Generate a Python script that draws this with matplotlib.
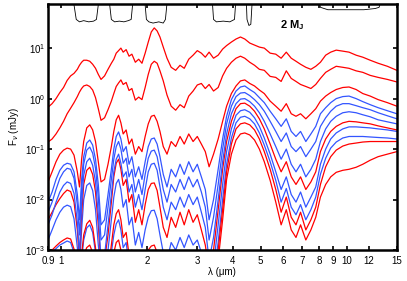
import numpy as np
import matplotlib
matplotlib.use("Agg")
import matplotlib.pyplot as plt
from matplotlib.ticker import FixedLocator, FixedFormatter, NullLocator, LogLocator

plt.rcParams["font.family"] = ["Liberation Sans", "DejaVu Sans"]
plt.rcParams["mathtext.fontset"] = "custom"
plt.rcParams["mathtext.rm"] = "Liberation Sans"
plt.rcParams["mathtext.bf"] = "Liberation Sans:bold"

# wavelength grid (micron)
wl = [0.90, 0.93, 0.96, 0.99, 1.02, 1.05, 1.08, 1.11, 1.14, 1.16, 1.18, 1.20,
      1.23, 1.26, 1.29, 1.32, 1.35, 1.38, 1.42, 1.46, 1.50, 1.53, 1.56, 1.59,
      1.62, 1.65, 1.69, 1.73, 1.77, 1.82, 1.87, 1.92, 1.97, 2.02, 2.07, 2.12,
      2.17, 2.22, 2.28, 2.35, 2.43, 2.52, 2.61, 2.70, 2.80, 2.90, 3.00, 3.10,
      3.20, 3.30, 3.42, 3.55, 3.68, 3.80, 3.95, 4.10, 4.25, 4.40, 4.58, 4.76,
      4.95, 5.15, 5.40, 5.65, 5.90, 6.15, 6.40, 6.65, 6.90, 7.20, 7.50, 7.80,
      8.10, 8.45, 8.80, 9.20, 9.70, 10.2, 10.8, 11.4, 12.1, 12.9, 13.9, 15.0]

# log10 flux (mJy)
red1 = [-0.17, -0.10, 0.00, 0.12, 0.22, 0.36, 0.45, 0.50, 0.58, 0.66, 0.72, 0.76,
        0.76, 0.74, 0.68, 0.60, 0.48, 0.38, 0.45, 0.58, 0.70, 0.78, 0.90, 0.95,
        1.00, 0.92, 0.97, 0.84, 0.88, 0.72, 0.78, 0.70, 0.90, 1.12, 1.32, 1.40,
        1.34, 1.22, 1.02, 0.80, 0.62, 0.56, 0.66, 0.60, 0.78, 0.86, 0.95, 0.90,
        0.82, 0.92, 0.80, 0.86, 0.98, 1.05, 1.12, 1.18, 1.22, 1.18, 1.10, 1.06,
        1.02, 1.00, 0.90, 0.88, 0.80, 0.92, 0.80, 0.74, 0.68, 0.62, 0.58, 0.64,
        0.72, 0.86, 0.92, 0.96, 0.94, 0.92, 0.86, 0.82, 0.76, 0.70, 0.64, 0.56]
red2 = [-0.86, -0.80, -0.70, -0.58, -0.45, -0.30, -0.19, -0.08, 0.04, 0.13, 0.20, 0.25,
        0.27, 0.24, 0.17, 0.02, -0.20, -0.43, -0.38, -0.22, -0.05, 0.10, 0.24, 0.31,
        0.37, 0.28, 0.32, 0.16, 0.20, -0.03, 0.03, -0.02, 0.22, 0.48, 0.68, 0.74,
        0.70, 0.55, 0.35, 0.07, -0.15, -0.23, -0.12, -0.18, 0.05, 0.15, 0.27, 0.30,
        0.20, 0.28, 0.15, 0.22, 0.45, 0.60, 0.72, 0.80, 0.84, 0.80, 0.72, 0.66,
        0.58, 0.56, 0.44, 0.42, 0.34, 0.55, 0.40, 0.34, 0.28, 0.24, 0.20, 0.28,
        0.40, 0.52, 0.58, 0.64, 0.62, 0.60, 0.55, 0.52, 0.46, 0.42, 0.38, 0.33]
red3 = [-1.65, -1.45, -1.25, -1.10, -1.02, -0.98, -1.00, -1.12, -1.45, -1.75, -1.20, -0.85,
        -0.58, -0.52, -0.62, -0.85, -1.25, -1.65, -1.60, -1.30, -0.95, -0.65, -0.42, -0.33,
        -0.48, -0.70, -0.62, -0.90, -0.80, -1.10, -0.95, -1.05, -0.75, -0.50, -0.35, -0.33,
        -0.45, -0.65, -0.95, -1.10, -0.85, -0.95, -0.75, -0.90, -0.70, -0.85, -0.75, -0.90,
        -1.05, -1.35, -1.10, -0.80, -0.45, -0.15, 0.10, 0.25, 0.35, 0.37, 0.30, 0.25,
        0.17, 0.10, -0.05, -0.15, -0.25, -0.10, -0.30, -0.35, -0.30, -0.40, -0.30, -0.20,
        -0.05, 0.05, 0.12, 0.18, 0.22, 0.23, 0.18, 0.10, 0.05, -0.02, -0.08, -0.15]
blue1 = [-2.05, -1.85, -1.60, -1.42, -1.32, -1.28, -1.30, -1.45, -1.90, -2.40, -1.60, -1.15,
         -0.88, -0.82, -0.92, -1.20, -1.70, -2.50, -2.40, -1.90, -1.40, -1.00, -0.75, -0.66,
         -0.80, -1.05, -0.95, -1.30, -1.15, -1.55, -1.35, -1.60, -1.25, -0.95, -0.80, -0.78,
         -0.90, -1.15, -1.50, -1.75, -1.40, -1.55, -1.30, -1.50, -1.25, -1.45, -1.30, -1.55,
         -1.80, -2.40, -2.00, -1.40, -0.80, -0.35, -0.02, 0.15, 0.23, 0.25, 0.18, 0.12,
         0.02, -0.08, -0.25, -0.40, -0.55, -0.40, -0.65, -0.75, -0.65, -0.85, -0.70, -0.55,
         -0.30, -0.18, -0.08, 0.00, 0.04, 0.05, 0.00, -0.06, -0.12, -0.18, -0.24, -0.30]
blue2 = [-2.25, -2.05, -1.80, -1.58, -1.45, -1.38, -1.40, -1.58, -2.10, -2.70, -1.80, -1.30,
         -1.02, -0.96, -1.08, -1.38, -1.95, -2.80, -2.70, -2.15, -1.60, -1.20, -0.95, -0.85,
         -1.00, -1.28, -1.18, -1.55, -1.40, -1.85, -1.60, -1.90, -1.50, -1.18, -1.04, -1.02,
         -1.15, -1.45, -1.80, -2.05, -1.70, -1.85, -1.60, -1.80, -1.55, -1.75, -1.60, -1.85,
         -2.15, -2.80, -2.35, -1.70, -1.00, -0.50, -0.15, 0.04, 0.11, 0.12, 0.06, -0.02,
         -0.12, -0.25, -0.45, -0.65, -0.85, -0.68, -0.95, -1.05, -0.95, -1.15, -1.00, -0.85,
         -0.55, -0.38, -0.25, -0.15, -0.10, -0.10, -0.14, -0.18, -0.22, -0.28, -0.34, -0.40]
blue3 = [-2.50, -2.30, -2.05, -1.85, -1.72, -1.65, -1.68, -1.88, -2.45, -3.10, -2.10, -1.52,
         -1.25, -1.18, -1.32, -1.65, -2.30, -3.20, -3.10, -2.50, -1.90, -1.45, -1.20, -1.10,
         -1.28, -1.55, -1.45, -1.85, -1.70, -2.15, -1.90, -2.20, -1.80, -1.45, -1.30, -1.28,
         -1.42, -1.75, -2.15, -2.40, -2.05, -2.20, -1.95, -2.15, -1.90, -2.10, -1.95, -2.25,
         -2.55, -3.20, -2.75, -2.00, -1.25, -0.70, -0.30, -0.10, -0.01, 0.00, -0.06, -0.15,
         -0.28, -0.45, -0.70, -0.95, -1.20, -1.00, -1.30, -1.45, -1.30, -1.55, -1.40, -1.20,
         -0.85, -0.60, -0.45, -0.35, -0.28, -0.26, -0.28, -0.32, -0.36, -0.42, -0.46, -0.50]
red4 = [-2.40, -2.25, -2.10, -1.98, -1.88, -1.81, -1.84, -2.05, -2.60, -3.20, -2.30, -1.70,
        -1.42, -1.36, -1.50, -1.85, -2.50, -3.30, -3.20, -2.70, -2.05, -1.55, -1.28, -1.20,
        -1.40, -1.72, -1.60, -2.05, -1.90, -2.45, -2.20, -2.50, -2.10, -1.80, -1.68, -1.67,
        -1.82, -2.15, -2.55, -2.75, -2.35, -2.55, -2.25, -2.50, -2.20, -2.45, -2.30, -2.60,
        -2.90, -3.40, -3.00, -2.20, -1.40, -0.85, -0.45, -0.20, -0.10, -0.09, -0.15, -0.25,
        -0.40, -0.60, -0.90, -1.20, -1.45, -1.25, -1.55, -1.70, -1.55, -1.80, -1.65, -1.45,
        -1.05, -0.80, -0.65, -0.55, -0.48, -0.45, -0.46, -0.48, -0.50, -0.54, -0.58, -0.62]
blue4 = [-2.80, -2.60, -2.40, -2.25, -2.15, -2.11, -2.14, -2.38, -2.95, -3.40, -2.60, -2.00,
         -1.72, -1.67, -1.82, -2.20, -2.90, -3.40, -3.40, -3.00, -2.40, -1.95, -1.68, -1.60,
         -1.80, -2.15, -2.00, -2.50, -2.35, -2.90, -2.65, -2.95, -2.60, -2.35, -2.22, -2.21,
         -2.38, -2.70, -3.05, -3.20, -2.85, -3.00, -2.75, -2.95, -2.70, -2.90, -2.80, -3.05,
         -3.30, -3.50, -3.30, -2.50, -1.70, -1.05, -0.60, -0.33, -0.24, -0.22, -0.27, -0.38,
         -0.55, -0.78, -1.10, -1.45, -1.80, -1.55, -1.90, -2.05, -1.85, -2.15, -1.95, -1.75,
         -1.30, -1.00, -0.80, -0.68, -0.60, -0.56, -0.56, -0.57, -0.58, -0.60, -0.62, -0.65]
red5 = [-3.15, -3.00, -2.92, -2.85, -2.80, -2.76, -2.78, -2.98, -3.40, -3.50, -3.10, -2.70,
        -2.48, -2.41, -2.55, -2.95, -3.50, -3.50, -3.50, -3.40, -2.90, -2.50, -2.28, -2.20,
        -2.40, -2.75, -2.65, -3.10, -3.00, -3.45, -3.30, -3.50, -3.20, -3.00, -2.92, -2.90,
        -3.05, -3.35, -3.50, -3.50, -3.30, -3.40, -3.15, -3.35, -3.10, -3.30, -3.20, -3.45,
        -3.50, -3.50, -3.50, -3.00, -2.20, -1.45, -0.90, -0.60, -0.50, -0.48, -0.52, -0.62,
        -0.80, -1.05, -1.40, -1.80, -2.25, -1.95, -2.35, -2.50, -2.25, -2.60, -2.40, -2.15,
        -1.70, -1.35, -1.15, -1.02, -0.94, -0.90, -0.88, -0.86, -0.85, -0.85, -0.85, -0.85]
blue5 = [-3.15, -3.05, -2.97, -2.90, -2.86, -2.82, -2.85, -3.05, -3.50, -3.50, -3.20, -2.80,
         -2.56, -2.50, -2.65, -3.05, -3.50, -3.50, -3.50, -3.50, -3.05, -2.70, -2.48, -2.40,
         -2.60, -2.95, -2.85, -3.30, -3.20, -3.50, -3.50, -3.50, -3.40, -3.15, -3.06, -3.05,
         -3.20, -3.50, -3.50, -3.50, -3.45, -3.50, -3.30, -3.50, -3.30, -3.45, -3.40, -3.50,
         -3.50, -3.50, -3.50, -2.85, -2.00, -1.30, -0.78, -0.48, -0.37, -0.35, -0.40, -0.50,
         -0.68, -0.92, -1.25, -1.62, -2.05, -1.78, -2.15, -2.30, -2.10, -2.40, -2.20, -1.95,
         -1.50, -1.18, -0.98, -0.86, -0.78, -0.75, -0.75, -0.75, -0.76, -0.77, -0.78, -0.80]
red6 = [-3.35, -3.25, -3.15, -3.10, -3.06, -3.05, -3.08, -3.30, -3.50, -3.50, -3.40, -3.10,
        -2.95, -2.90, -3.05, -3.40, -3.50, -3.50, -3.50, -3.50, -3.40, -3.05, -2.85, -2.80,
        -3.00, -3.30, -3.25, -3.50, -3.50, -3.50, -3.50, -3.50, -3.50, -3.35, -3.26, -3.25,
        -3.40, -3.50, -3.50, -3.50, -3.50, -3.50, -3.50, -3.50, -3.50, -3.50, -3.50, -3.50,
        -3.50, -3.50, -3.50, -3.20, -2.40, -1.60, -1.10, -0.82, -0.70, -0.68, -0.72, -0.82,
        -1.00, -1.25, -1.62, -2.05, -2.50, -2.20, -2.60, -2.75, -2.50, -2.80, -2.60, -2.35,
        -1.95, -1.70, -1.55, -1.46, -1.42, -1.40, -1.36, -1.30, -1.22, -1.15, -1.10, -1.05]

# filter transmission curves hanging from the top of the panel
filt_wl = [0.90, 1.10, 1.13, 1.16, 1.20, 1.25, 1.30, 1.33, 1.36, 1.47,
           1.50, 1.54, 1.60, 1.66, 1.72, 1.76, 1.79, 1.96, 1.99, 2.03,
           2.10, 2.20, 2.28, 2.32, 2.36, 3.38, 3.42, 3.50, 3.70, 3.90,
           4.05, 4.10, 4.45, 4.48, 4.55, 4.62, 4.68, 7.95, 8.10, 8.60,
           9.50, 10.5, 11.5, 12.6, 13.0, 13.3, 15.0]
filt_tr = [0.0, 0.0, 0.9, 1.0, 0.95, 1.0, 0.97, 0.9, 0.0, 0.0,
           0.9, 1.0, 0.97, 1.0, 0.95, 0.9, 0.0, 0.0, 0.9, 1.0,
           1.05, 1.0, 1.05, 0.9, 0.0, 0.0, 0.9, 1.0, 0.97, 1.0,
           0.9, 0.0, 0.0, 0.9, 1.15, 1.1, 0.0, 0.0, 0.4, 0.5,
           0.5, 0.5, 0.5, 0.45, 0.4, 0.0, 0.0]

x_ticks = [0.9, 1, 2, 3, 4, 5, 6, 7, 8, 9, 10, 12, 15]
x_labels = ["0.9", "1", "2", "3", "4", "5", "6", "7", "8", "9", "10", "12", "15"]

RED = "#ff0000"
BLUE = "#3355ff"

fig = plt.figure(figsize=(4.07, 2.81), dpi=100)
ax = fig.add_axes([0.118, 0.110, 0.857, 0.875])

x = np.array(wl)
series = [(blue5, BLUE), (red6, RED), (red5, RED), (blue4, BLUE), (red4, RED),
          (blue3, BLUE), (blue2, BLUE), (blue1, BLUE), (red3, RED),
          (red2, RED), (red1, RED)]
for vals, col in series:
    ax.plot(x, 10 ** np.array(vals), color=col, lw=0.9)

# filters: baseline above the frame, transmission pulls the curve down
ax.plot(filt_wl, 10 ** (2.0 - 0.48 * np.array(filt_tr)), color="k", lw=0.6)

ax.set_xscale("log")
ax.set_yscale("log")
ax.set_xlim(0.9, 15)
ax.set_ylim(1e-3, 74)

ax.xaxis.set_major_locator(FixedLocator(x_ticks))
ax.xaxis.set_major_formatter(FixedFormatter(x_labels))
ax.xaxis.set_minor_locator(NullLocator())
ax.yaxis.set_major_locator(LogLocator(base=10, numticks=10))
ax.yaxis.set_minor_locator(NullLocator())

ax.tick_params(which="both", direction="in", top=True, right=True,
               labelsize=7, length=3, width=1.2)
ax.tick_params(axis="x", pad=4)
ax.tick_params(axis="y", pad=2)
for s in ax.spines.values():
    s.set_linewidth(1.8)

ax.set_xlabel("λ (μm)", fontsize=7, labelpad=1)
ax.set_ylabel(r"F$_\nu$ (mJy)", fontsize=7, labelpad=3)

ax.text(0.70, 0.915, r"2 M$_\mathbf{J}$", transform=ax.transAxes,
        fontsize=8, fontweight="bold", ha="center", va="center")

fig.savefig("out.png", dpi=100)
